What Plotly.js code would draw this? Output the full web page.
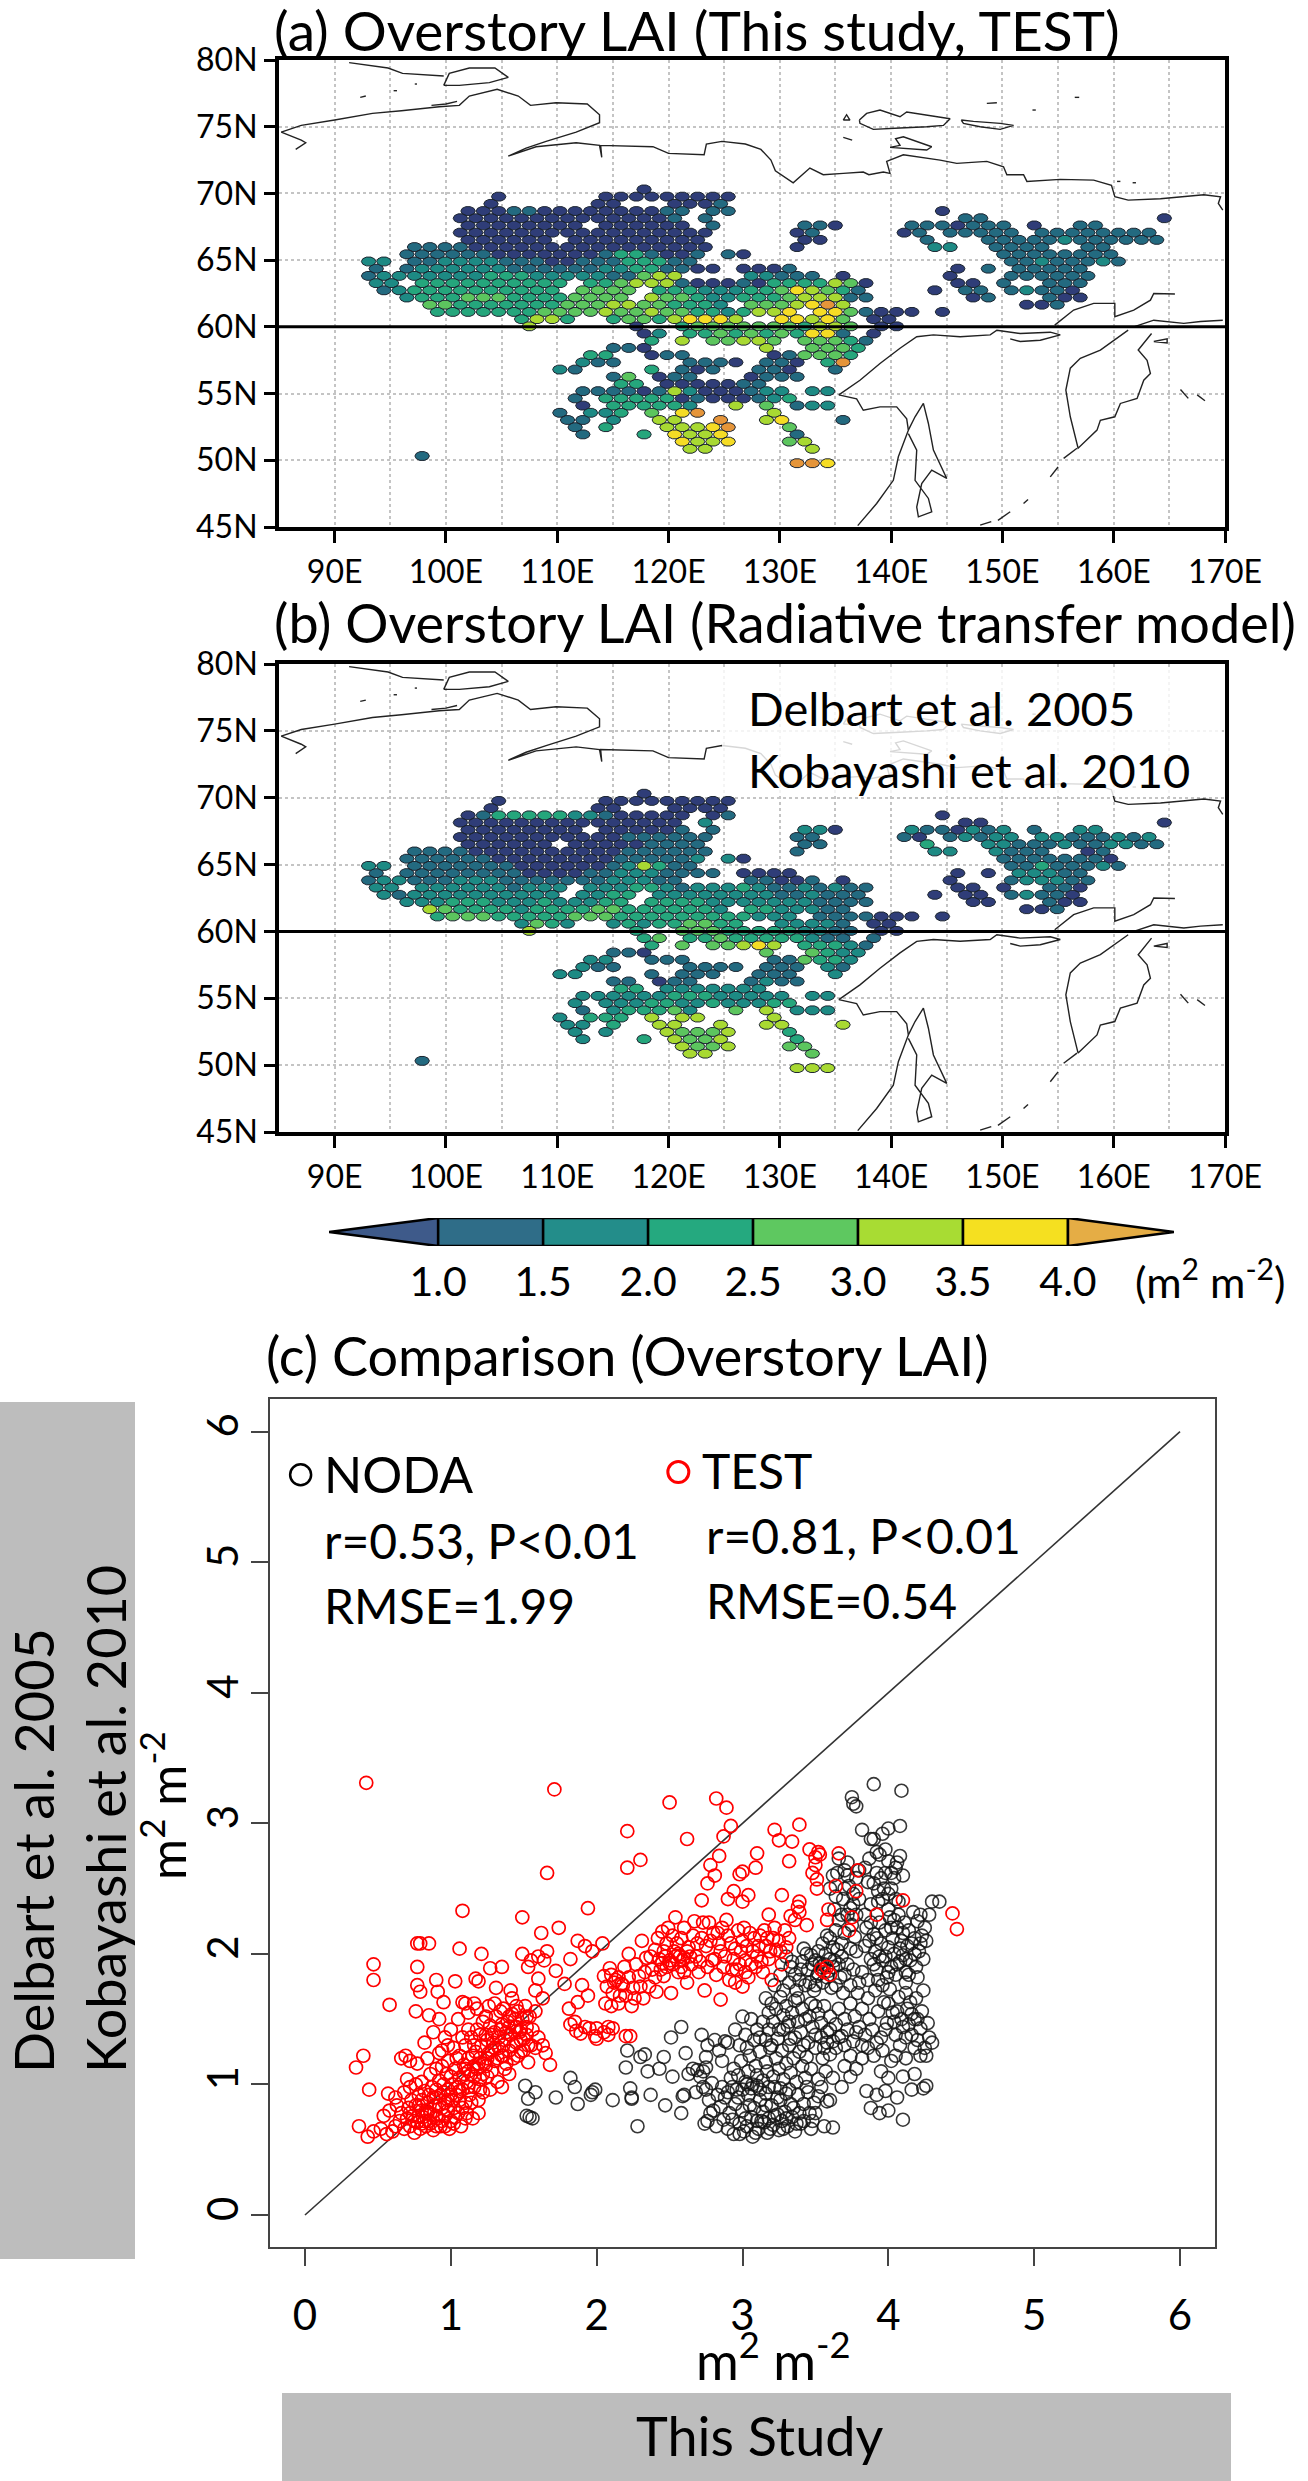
<!DOCTYPE html>
<html><head><meta charset="utf-8">
<script src="https://cdn.plot.ly/plotly-3.0.1.min.js"></script>
<style>html,body{margin:0;padding:0;background:#fff}</style></head>
<body><div id="chart" style="width:1308px;height:2481px"></div>
<script>
// ---------- DATA ----------
const lonTicks=[90,100,110,120,130,140,150,160,170];
const lonLabels=['90E','100E','110E','120E','130E','140E','150E','160E','170E'];
const lonMinor=[95,105,115,125,135,145,155,165];
const latTicks=[45,50,55,60,65,70,75,80];
const latLabels=['45N','50N','55N','60N','65N','70N','75N','80N'];
const laiClasses=['#2f3d78','#236a80','#1d8a84','#25a67c','#5cc55e','#a8d932','#f5dc25','#e5953a'];
const barBounds=[1,1.5,2,2.5,3,3.5,4];
const barColors=['#2f6d88','#238d8a','#25a97f','#5ec860','#a8dc33','#f5e020'];
const barLowColor='#3e5a8a', barHighColor='#e5ad45', barLowTip=0.48, barHighTip=4.505;
// one row per grid latitude (north to south): [first longitude, classes in TEST, classes in radiative transfer model]
const hexRows=[
[[117.8,'0','0']],
[[104.3,'0','0'],[113.8,'000000000','000000000']],
[[103.5,'0','0'],[113.8,'00','00'],[120,'0001','0000']],
[[102.3,'000110000000011','013333322100000'],[123.7,'11','01'],[144.4,'0','0']],
[[101.7,'000000000000001','000000000000000'],[123.9,'1','2'],[147.2,'11','00'],[164.6,'0','0']],
[[101.7,'00000000','00000000'],[113.8,'000000','000001'],[124.4,'1','1'],[131.7,'110','220'],[141.4,'1110111','2110212'],[152.6,'0','1'],[157,'11','22']],
[[101,'0000000000000000','0000000000011111'],[123.2,'0','1'],[131.7,'01','11'],[141.4,'01','10'],[145.45,'11111','12122'],[153.8,'11111111','22111212']],
[[101.7,'000000','000000'],[111.5,'000000000','000001111'],[131.7,'0','1'],[133.3,'0','1'],[142.75,'1','3'],[148.1,'111112111111','221112112211']],
[[97.1,'1111','1111'],[102.1,'0000000000000000','0000000000111111'],[132.2,'0','1'],[144,'22','22'],[149.3,'1111','2111'],[157.4,'11','01']],
[[96.8,'11111100000001331001','11111100000000111112'],[124.8,'1','2'],[127.1,'0','0'],[150.7,'11111111','11111110']],
[[93.2,'22','22'],[96.8,'1122221110011133311','1111111000000125311'],[150.4,'11211121','11311121']],
[[93.2,'1','1'],[96.6,'12222221111112233110','11111111000011222111'],[124.4,'0','1'],[126.4,'00','00'],[129.2,'01','00'],[145.45,'0','0'],[149.2,'1','0'],[151.6,'11111','22211']],
[[93,'122','122'],[97.5,'222223332222211','111222111111122'],[117.2,'455','211'],[127.6,'22111','11001'],[135.8,'0','0'],[145.45,'0','0'],[150.4,'1','1'],[151.6,'11111','22211']],
[[94.1,'22','22'],[98.4,'3333333333','2222221222'],[112.7,'334555','222332'],[121.1,'100010','122232'],[129,'3333540','1121211'],[145.6,'00','00'],[150.4,'1','0'],[154,'111','110']],
[[93.9,'1','2'],[96.1,'23333333333','12222222222'],[112.4,'4444','2233'],[118.6,'333222','222222'],[127.3,'33465','22112'],[134.2,'431','111'],[144.55,'0','0'],[147,'11','00'],[150.4,'1211','1211'],[156.4,'0','0']],
[[96.1,'233344433334444','222333222322233'],[118.6,'544322','333322'],[127.3,'3334555','2222211'],[136,'11','11'],[147,'01','00'],[154,'100','100']],
[[98.2,'4433333','5433332'],[108.5,'3344455443332','3333443333332'],[127.3,'4445675','3322211'],[151.7,'001','001']],
[[99.4,'3333333','3444333'],[109,'4444544544332','3344433333333'],[126.9,'3556','3222'],[133.3,'66','11'],[135.8,'41000','11000'],[144,'0','0']],
[[106.2,'3','2'],[107.6,'55','43'],[111.3,'3','2'],[114.5,'3443','2323'],[120.9,'56665','34433'],[130.6,'665','222'],[134.2,'64','21'],[138.8,'00','00']],
[[107.8,'5','5'],[117.5,'0','3'],[121.6,'34444','44433'],[128.7,'4443554','3332211'],[138.8,'00','00']],
[[117.2,'02','34'],[122.3,'33434343661','33433333211'],[138,'0','1']],
[[117.9,'3','3'],[120.9,'5','4'],[123.9,'44554','44565'],[132.4,'44431','33321']],
[[115.4,'110','110'],[129,'5','4'],[132.8,'4443','4322']],
[[113.1,'33','22'],[118.2,'011','111'],[130,'01','11'],[132.4,'4443','4332']],
[[112,'211','211'],[122.3,'1110','1111'],[128.7,'110','111'],[134.7,'37','21']],
[[110.1,'2','2'],[112,'1','2'],[119,'3','1'],[120.9,'101','111'],[128.7,'110','111'],[134.7,'1','2']],
[[115,'14','11'],[118.6,'01','01'],[122.3,'1','1'],[127.3,'01','12'],[130.6,'11','11']],
[[115.6,'33','33'],[120,'00','22'],[123.2,'00011','22222']],
[[112.7,'11110152000122','22222233322222'],[133.5,'22','22']],
[[111.7,'1','2'],[114.5,'33333','22233'],[121.1,'01000123','22322233']],
[[111.7,'0','1'],[114.5,'333332','233342'],[126.4,'5','4'],[129.2,'4','5'],[131,'122','222']],
[[110.8,'1','2'],[113.6,'223','333'],[119,'4','5'],[120.9,'67','55'],[129,'5','5']],
[[110.8,'11','22'],[115,'2','3'],[119,'55','55'],[125.3,'7','5'],[129,'56','55'],[136.1,'1','5']],
[[112.2,'1','2'],[114.5,'3','2'],[119.5,'5','5'],[121.4,'5567','4445'],[131,'4','3']],
[[112.2,'1','2'],[118.2,'3','3'],[120.7,'6556','5445'],[132.2,'1','3']],
[[120.9,'6556','5445'],[131.2,'4','4'],[132.8,'5','4']],
[[121.8,'55','55'],[132.8,'5','4']],
[[98.2,'1','1']],
[[131,'776','555']]
];
// coast polylines as [lon,lat]
const coasts=[
[[85.2,74.6],[87,75.1],[90,75.5],[93.4,76],[96,76.2],[99.4,76.5],[101.2,76.6],[102.1,77.3],[104.6,77.8],[106.5,77.3],[107.6,76.6],[109.9,76.8],[112.7,76.7],[113.8,75.9],[113.8,75.3],[111.7,74.6],[109,73.9],[107.2,73.4],[105.6,72.8],[108.1,73.5],[111.7,73.8],[113.8,73.6],[114,72.7],[113.9,73.6],[118.6,73.5],[120,73],[123.2,72.9],[123.4,73.7],[124.8,73.9],[126.9,73.7],[128.3,73.3],[129.2,72.5],[129.6,71.7],[131.2,70.8],[132.7,71.9],[133.9,71.4],[135.7,71.5],[137.5,71.6],[138,71.4],[139.3,71.6],[139.9,71.5],[139.6,72.4],[141.1,72.9],[144.4,72.5],[145.9,72.25],[148.6,72.4],[150.1,72],[150.4,71.4],[151.9,71.4],[152.2,70.9],[155.2,71.05],[158.2,71],[159.8,70.6],[160.1,69.75],[161.3,69.5],[164.2,69.6],[168.1,69.9],[169.6,69.75],[169.4,69.25],[169.8,68.75]],
[[85.2,74.6],[87,74],[87.4,73.8],[86.5,73.3]],
[[91.3,79.8],[94.8,79.4],[96.1,79],[99.8,78.8]],
[[99.8,78.1],[100.3,79],[102.1,79.4],[104.4,79.4],[105.6,78.7],[103.9,78.3],[101.2,78.1],[99.8,78.1]],
[[92.3,77.2],[92.8,77.3]],[[95.3,77.7],[95.6,77.7]],[[97.2,78.2],[97.4,78.2]],[[98.7,76.6],[100,76.7],[101,76.9]],
[[135.7,75.5],[136,75.9],[136.3,75.5],[135.7,75.5]],
[[137.15,75.5],[137.8,76],[139,76.25],[140.8,75.75],[141.4,76.1],[142.9,75.9],[145.3,75.6],[144.7,75.1],[143.2,75],[140.8,74.9],[138.4,74.8],[137.2,75.25],[137.15,75.5]],
[[146.3,75.5],[147.4,75.4],[149.8,75.25],[151,75.1],[149.8,74.8],[148,75],[146.5,75.25],[146.3,75.5]],
[[139.9,73.45],[140.8,73.6],[140.4,74.1],[141.1,74.25],[143.65,73.5],[143.2,73.25],[139.9,73.45]],
[[148.6,76.75],[149.5,76.8]],[[152.7,76.25],[153,76.25]],[[156.5,77.2],[156.9,77.2]],[[135.7,74.2],[136.5,74]],[[160.3,70.9],[160.6,70.9]],[[161.7,70.8],[162,70.8]],
[[135.3,54.9],[137.2,56],[139,57.25],[140.8,58.4],[142.3,59.26],[143.8,59.4],[146.2,59.26],[148.9,59.4],[149.5,59.75],[151.6,59.5],[154.3,59.6],[155.2,59.4],[153.4,59],[151.6,58.9],[150.7,59.1]],
[[135.3,54.9],[136.9,54.6],[137.5,53.75],[139,54],[140.5,54],[141.4,53.1],[141.55,52.26],[140.65,50.26],[140.2,48.5],[138.7,46.76],[137,45.1]],
[[141.55,52.26],[142.15,53.26],[142.9,54.26],[143.35,52.76],[143.8,50.76],[145,48.64],[143.65,49.26],[142.75,48.26],[142.3,46.5],[142.45,45.76],[143.65,46.14],[143.35,47.14],[142.15,48.5],[142.3,50.76],[141.55,52]],
[[154.7,60.13],[156.4,61.26],[158.2,61.76],[160.1,61.76],[160.1,60.76],[161.8,61.26],[163.3,62],[163.6,62.5],[165.5,62.46]],
[[161.8,60],[163.6,60.5],[166.3,60.26],[167.8,60.4],[169.8,60.5]],
[[161.3,59.75],[158.8,58.26],[157,57.64],[156.1,56.9],[155.7,55.26],[156.1,53.26],[156.8,50.9],[158.5,52.26],[158.8,53],[160.1,53.26],[160.6,54.26],[162.1,54.64],[162.7,56],[163.3,56.5],[163,57.5],[162.2,58.26],[163.4,59.5]],
[[155.5,50.14],[156.7,50.9]],[[154.3,48.76],[155,49.5]],[[151.9,46.76],[152.3,47.06]],[[149.6,45.5],[150.7,46.14]],[[148,45.14],[149,45.4]],[[166,55.3],[166.7,54.64]],[[167.5,54.9],[168.2,54.46]],
[[163.6,58.9],[164.8,59.1],[164.8,58.8],[163.6,58.9]]
];
const parallel60Lon=[85,170], parallel60Lat=[60,60];
const oneToOne=[0,6];
const scatterTicks=[0,1,2,3,4,5,6];
const nodaLegend=[-0.03,5.67], testLegend=[2.56,5.69];
const nodaPts=[
[1.51,.99],[1.58,.94],[1.53,.89],[1.72,.90],[1.52,.76],[1.56,.74],[1.54,.75],[1.82,1.05],[1.85,.98],[1.99,.96],[1.96,.92],[1.97,.94],[1.87,.85],[2.11,.88],[2.23,.97],[2.24,.89],[2.24,.90],[2.37,.92],[2.28,.68],[2.47,.84],[2.58,.78],[2.59,.91],[2.6,.92],
[2.21,1.26],[2.2,1.13],[2.3,1.21],[2.33,1.23],[2.35,1.10],[2.43,1.12],[2.46,1.21],[2.52,1.06],[2.61,1.24],[2.51,1.36],[2.58,1.44],[2.63,1.08],[2.66,1.12],[2.69,1.11],[2.73,1.10],[2.75,1.13],[2.68,.94],[2.75,.96],[2.81,1.34],[2.88,1.33],[2.75,1.21],[2.78,.78],[2.80,.80],[2.87,.73],[2.79,1.01],
[2.71,1.06],[2.73,.98],[2.77,.88],[2.74,.70],[2.76,.72],[2.82,.68],[2.85,.83],[2.86,.98],[2.83,.92],[2.88,.90],[2.90,.66],[2.93,.73],[2.91,.78],[2.94,.62],[2.95,.85],[2.96,.96],[2.98,.70],[3.0,.80],[3.01,.64],[3.03,.68],[3.04,.92],[3.06,.75],[3.07,.60],[3.08,.82],[3.1,.72],[3.11,.66],[3.12,.88],[3.14,.79],[3.15,.71],[3.16,.93],[3.17,.63],[3.18,.74],[3.2,.84],[3.21,.69],[3.22,.98],[3.24,.77],[3.25,.65],[3.26,.88],[3.27,.72],[3.29,.79],[3.3,.93],[3.31,.68],[3.33,.85],[3.34,.75],[3.36,.64],[3.38,.92],[3.4,.7],[3.42,.85],[3.45,.94],[3.47,.66],[3.5,.78],[3.48,.72],[3.52,.91],[3.56,.68],[3.58,.87],[3.62,.67],[3.6,.88],
[2.92,1.05],[2.94,1.12],[2.97,1.07],[2.99,1.18],[3.02,1.02],[3.04,1.10],[3.05,1.22],[3.07,1.0],[3.09,1.14],[3.1,1.07],[3.12,1.25],[3.14,1.03],[3.16,1.17],[3.17,1.1],[3.19,1.28],[3.21,1.06],[3.23,1.2],[3.25,1.12],[3.27,1.26],[3.28,1.04],[3.3,1.16],[3.32,1.3],[3.33,1.09],[3.35,1.2],[3.37,1.02],[3.39,1.25],[3.41,1.14],[3.43,1.05],[3.44,1.21],[3.47,1.12],[3.5,1.28],[3.52,1.04],[3.55,1.2],[3.57,1.1],[3.6,1.23],[3.58,1.32],[3.62,1.05],
[3.16,1.66],[3.18,1.55],[3.2,1.62],[3.21,1.48],[3.23,1.58],[3.25,1.42],[3.26,1.67],[3.28,1.53],[3.3,1.6],[3.31,1.45],[3.33,1.35],[3.34,1.55],[3.36,1.64],[3.38,1.48],[3.4,1.4],[3.41,1.58],[3.43,1.5],[3.45,1.32],[3.47,1.62],[3.48,1.44],[3.5,1.38],[3.52,1.54],[3.54,1.47],[3.56,1.6],[3.58,1.4],[3.6,1.52],[3.62,1.33],[3.64,1.46],[3.66,1.58],[3.68,1.37],[3.7,1.5],[3.72,1.42],[3.74,1.62],[3.76,1.33],[3.77,1.52],[3.79,1.7],[3.8,1.44],[3.82,1.58],[3.84,1.38],[3.86,1.66],[3.87,1.5],[3.89,1.42],[3.91,1.72],[3.93,1.56],[3.95,1.36],[3.97,1.63],[3.99,1.47],[4.01,1.73],[4.03,1.55],[4.05,1.38],[4.07,1.67],[4.09,1.5],
[4.12,1.7],[4.13,1.58],[4.14,1.46],[4.15,1.63],[4.16,1.38],[4.18,1.5],[4.19,1.66],[4.2,1.34],[4.22,1.43],[4.23,1.56],[4.25,1.28],[4.27,1.47],[4.28,1.36],[4.26,1.22],[4.3,1.32],[4.05,1.22],[4.02,1.18],[4.12,1.2],[3.95,1.1],[4.0,1.05],[4.1,1.06],[4.18,1.08],[3.85,.95],[3.92,.92],[3.98,.95],[3.88,.82],[3.94,.78],[4.0,.8],[4.06,.9],[4.1,.73],[4.16,.96],[4.24,.97],[4.26,.99],
[3.3,1.98],[3.33,1.9],[3.36,1.84],[3.39,1.8],[3.41,1.94],[3.43,1.76],[3.45,1.88],[3.47,1.99],[3.49,1.72],[3.51,1.83],[3.53,1.93],[3.55,1.78],[3.57,2.0],[3.59,1.87],[3.61,1.74],[3.63,1.95],[3.65,2.03],[3.67,1.82],[3.69,1.7],[3.5,1.95],[3.52,1.85],[3.54,1.9],[3.56,1.92],[3.58,1.82],[3.44,2.0],
[3.6,2.12],[3.62,2.05],[3.64,2.18],[3.66,2.26],[3.63,2.34],[3.68,2.08],[3.69,2.42],[3.7,2.16],[3.72,2.3],[3.73,2.52],[3.74,2.04],[3.75,2.22],[3.76,2.38],[3.6,2.5],[3.62,2.6],[3.65,2.62],[3.77,2.13],
[3.85,2.2],[3.87,2.1],[3.88,1.96],[3.9,2.15],[3.91,2.02],[3.92,1.88],[3.94,2.24],[3.95,2.08],[3.96,1.95],[3.98,2.18],[3.99,1.82],[4.0,2.05],[4.01,2.28],[4.02,1.9],[4.03,2.12],[4.04,2.0],[4.05,1.84],[4.06,2.2],[4.07,2.3],[4.08,1.94],[4.09,2.1],[4.1,1.99],[4.11,2.24],[4.12,1.86],[4.13,2.06],[4.14,2.18],[4.15,1.95],[4.17,2.32],[4.18,2.12],[4.19,1.9],[4.2,2.25],[4.21,2.02],[4.23,2.14],[4.22,2.3],[4.24,1.96],[4.26,2.1],[4.28,2.3],[4.24,1.72],[4.3,2.4],[4.12,1.78],[3.93,1.8],
[3.75,3.2],[3.78,3.13],[3.76,3.15],[3.9,3.3],[4.09,3.25],[3.82,2.95],[3.9,2.88],[3.96,2.92],[4.08,2.98],[4.0,2.96],[3.92,2.78],[3.94,2.76],[3.87,2.73],[4.06,2.7],[4.08,2.75],[4.0,2.71],[3.95,2.58],[3.84,2.66],[4.05,2.66],[4.1,2.6],[3.97,2.5],[3.93,2.48],[4.02,2.5],[3.86,2.55],[3.98,2.62],[4.05,2.42],[4.07,2.4],[3.93,2.4],[4.0,2.34],[4.35,2.4],[3.7,2.64],[3.72,2.7],[3.66,2.73],[3.8,2.64],[3.78,2.58],
// second reading of the dense parts
[2.72,1.38],[2.76,1.3],[2.84,1.26],[2.86,1.18],[2.9,1.32],[2.95,1.42],[2.98,1.3],[3.02,1.38],[3.03,1.28],[3.08,1.34],[3.1,1.42],[3.12,1.36],[3.14,1.48],[3.06,1.5],[3.0,1.52],[3.16,1.34],[3.18,1.42],[3.2,1.3],[3.24,1.35],[3.28,1.42],[3.32,1.48],[3.36,1.36],[3.38,1.66],[3.42,1.3],[3.46,1.52],[3.5,1.6],[3.54,1.36],[3.56,1.28],[3.6,1.42],[3.64,1.28],[3.66,1.36],[3.7,1.3],[3.74,1.22],[3.78,1.4],[3.82,1.3],[3.7,1.14],[3.74,1.06],[3.68,.98],[3.78,1.12],[3.82,1.2],[3.86,1.28],[3.9,1.22],[3.92,1.32],[3.96,1.26],[3.98,1.42],[4.0,1.62],[4.04,1.48],[4.06,1.56],[4.08,1.3],[4.1,1.44],[4.12,1.36],[4.16,1.54],[4.18,1.28],[4.2,1.5],[4.22,1.22],
[3.22,1.76],[3.26,1.84],[3.28,1.72],[3.32,1.78],[3.34,1.94],[3.37,1.72],[3.4,1.88],[3.42,2.04],[3.46,1.78],[3.48,1.92],[3.5,1.76],[3.52,2.02],[3.55,2.08],[3.58,2.14],[3.6,1.96],[3.62,1.9],[3.64,1.76],[3.66,1.92],[3.68,1.98],[3.7,1.84],[3.72,1.92],[3.74,1.76],[3.76,1.88],[3.78,2.02],[3.8,1.78],[3.82,1.86],[3.84,2.06],[3.86,1.8],[3.88,2.24],[3.9,1.92],[3.92,2.12],[3.94,1.98],[3.96,1.76],[3.98,1.98],[4.0,1.86],[4.02,2.2],[4.04,2.26],[4.06,1.92],[4.08,2.04],[4.1,2.16],[4.12,1.96],[4.14,1.84],[4.16,2.08],[4.18,2.0],[4.2,1.82],[4.22,2.08],[4.25,2.2],[3.76,2.46],[3.64,2.44],[3.68,2.3],[3.7,2.5],[3.72,2.6],[3.74,2.35],[3.78,2.3],[3.8,2.42],[3.84,2.3],[3.88,2.38],[3.9,2.54],[3.92,2.62],[3.96,2.42],[4.0,2.46],[4.02,2.62],[4.04,2.58],[3.98,2.8],[3.88,2.88],
[2.98,.62],[3.02,.74],[3.05,.84],[3.09,.63],[3.13,.72],[3.16,.84],[3.19,.66],[3.22,.76],[3.24,.9],[3.28,.66],[3.3,.74],[3.32,.96],[3.35,.82],[3.37,.7],[3.39,.78],[3.42,.72],[3.44,.98],[3.46,.78],[3.49,.86],[3.54,.98],[2.9,.94],[2.93,.98],[2.97,.9],[3.0,.96],[3.03,1.0],[3.06,.97],[3.1,.99],[3.12,.96],[3.18,.98],[3.26,.97]
];
const testPts=[
[.42,3.31],[1.71,3.26],[2.50,3.16],[2.82,3.19],[2.89,3.12],[2.92,2.98],[2.21,2.94],[2.62,2.88],[2.87,2.90],[3.22,2.95],[3.39,2.99],[3.25,2.87],[3.34,2.86],[3.46,2.80],[3.53,2.76],[3.66,2.77],[2.84,2.75],[3.10,2.77],[2.30,2.72],[2.21,2.66],[2.78,2.68],[3.09,2.66],[3.32,2.71],[1.66,2.62],[2.81,2.60],[3.0,2.63],[2.98,2.61],[3.5,2.68],[3.79,2.64],[3.51,2.57],[2.76,2.54],[3.51,2.50],[3.64,2.52],[2.94,2.48],[3.04,2.45],[2.90,2.42],[2.72,2.41],[3.0,2.40],[3.27,2.45],[3.39,2.40],[3.78,2.48],[4.1,2.41],[3.48,2.62],[3.5,2.74],[3.52,2.78],
[1.08,2.33],[1.94,2.35],[1.49,2.28],[3.18,2.30],[3.33,2.29],[3.59,2.34],[3.92,2.30],[4.44,2.31],[4.47,2.19],[3.38,2.36],[3.39,2.32],[3.36,2.26],[3.44,2.22],[3.58,2.26],[3.75,2.28],[3.73,2.18],
[.47,1.92],[.47,1.80],[.77,2.08],[.85,2.08],[.79,2.08],[1.06,2.04],[1.21,2.0],[.77,1.90],[.58,1.61],[.90,1.80],[1.03,1.79],[.77,1.76],[.79,1.71],[.91,1.71],[1.17,1.81],[1.19,1.79],[1.27,1.89],[1.35,1.90],[1.31,1.74],[1.41,1.72],[.76,1.56],[.85,1.53],[.95,1.63],[1.08,1.63],[1.16,1.62],[1.49,2.0],[1.62,2.16],[1.74,2.2],[1.87,2.1],[1.53,1.90],[1.64,1.95],[1.72,1.87],[1.6,1.81],[1.78,1.77],[1.9,1.76],[1.87,1.63],[1.81,1.58],[1.94,1.68],[1.85,1.48],[1.95,1.43],[1.89,1.39],[2,1.43],[2.11,1.43],[2,1.35],[2.05,1.4],[2.08,1.38],[2.23,1.37],[1.55,1.95],[1.6,1.98],[1.66,2.02],[1.92,2.06],[1.97,2.02],[2.04,2.08],[1.58,1.72],[1.63,1.66],[1.82,1.96],[1.45,1.6],[1.42,1.66],
[2.05,1.83],[2.07,1.75],[2.09,1.89],[2.11,1.7],[2.13,1.8],[2.15,1.62],[2.17,1.77],[2.19,1.9],[2.2,1.68],[2.22,2.0],[2.24,1.6],[2.25,1.74],[2.27,1.92],[2.29,1.83],[2.31,2.1],[2.32,1.66],[2.34,1.97],[2.36,1.75],[2.38,1.88],[2.4,2.03],[2.41,1.71],[2.43,1.96],[2.45,2.17],[2.46,1.83],[2.48,2.08],[2.5,1.93],[2.51,1.7],[2.53,2.02],[2.54,2.28],[2.56,1.86],[2.58,2.12],[2.59,1.95],[2.6,2.2],[2.62,1.78],[2.63,2.05],[2.65,1.92],[2.67,2.25],[2.68,1.98],[2.7,1.86],[2.72,2.12],[2.74,1.72],[2.75,2.06],[2.77,2.24],[2.79,1.95],[2.8,2.16],[2.82,1.84],[2.84,2.08],[2.86,2.2],[2.88,1.98],[2.9,2.14],[2.91,1.8],[2.93,1.88],[2.95,2.04],[2.97,2.18],[2.98,1.92],[3.0,2.1],[3.02,1.95],[3.04,1.82],[3.05,2.16],[3.07,2.02],[3.09,1.9],[3.1,1.98],[3.12,2.14],[3.14,1.86],[3.16,2.06],[3.18,1.96],[3.2,1.8],[3.22,2.2],[3.23,2.03],[3.25,2.1],[3.27,1.92],[3.29,2.18],[3.3,2.05],[3.32,2.12],[3.02,1.86],[3.0,1.75],[2.95,1.78],[2.85,1.65],
[2.5,1.95],[2.52,1.92],[2.54,1.98],[2.56,2.0],[2.48,1.9],[2.46,2.02],[2.45,1.93],[2.58,1.9],[2.6,1.97],[2.62,2.02],[2.12,1.78],[2.15,1.82],[2.18,1.76],[2.1,1.84],[3.58,1.9],[3.56,1.86],[3.6,1.84],[3.54,1.88],
[.37,.68],[.43,.60],[.47,.64],[.52,.66],[.56,.62],[.60,.64],[.35,1.13],[.40,1.22],[.44,.96],[.57,.93],[.62,.9],[.69,1.22],[.66,1.2],[.72,1.18],[.77,1.16],[.54,.76],[.58,.8],[.99,.66],[1.19,.78],[1.11,.78],[1.35,.98],[1.27,.96],[1.53,1.17],[1.68,1.15],[1.65,1.24],[1.63,1.30],[2.2,1.37],[2.08,1.44],[1.99,1.37],[1.82,1.46],[1.86,1.41],[1.92,1.44],[1.37,1.12],[1.4,1.08],
[.62,.68],[.65,.72],[.66,.78],[.68,.66],[.7,.74],[.71,.82],[.72,.68],[.73,.88],[.74,.76],[.75,.63],[.76,.84],[.77,.71],[.78,.92],[.79,.66],[.8,.8],[.81,.75],[.82,.95],[.83,.68],[.84,.86],[.85,.72],[.86,.78],[.87,.98],[.88,.65],[.89,.84],[.9,.9],[.91,.74],[.92,1.03],[.93,.68],[.94,.82],[.95,.94],[.96,.76],[.97,1.08],[.98,.88],[1.0,.72],[1.01,1.0],[1.02,.82],[1.03,1.12],[1.04,.92],[1.05,.78],[1.06,1.05],[1.07,.68],[1.08,.96],[1.09,1.15],[1.1,.86],[1.11,1.02],[1.12,1.2],[1.13,.92],[1.14,1.08],[1.15,.74],[1.16,.98],[1.17,1.25],[1.18,1.12],[1.19,.88],[1.2,1.04],[1.21,1.3],[1.22,.94],[1.23,1.16],[1.24,1.38],[1.25,1.06],[1.26,1.24],[1.27,1.45],[1.28,1.1],[1.29,1.32],[1.3,1.18],[1.31,1.52],[1.32,1.02],[1.33,1.28],[1.34,1.42],[1.35,1.22],[1.36,1.58],[1.37,1.34],[1.38,1.16],[1.39,1.48],[1.4,1.26],[1.41,1.38],[1.42,1.54],[1.43,1.2],[1.44,1.44],[1.45,1.32],[1.46,1.56],[1.47,1.4],[1.48,1.25],[1.49,1.5],[1.5,1.35],[1.51,1.6],[1.52,1.44],[1.53,1.3],[1.54,1.52],[1.56,1.42],[1.58,1.56],[1.6,1.36],[1.22,1.48],[1.18,1.42],[1.14,1.36],[1.26,1.6],[1.3,1.62],[1.34,1.56],[1.1,1.3],[1.06,1.22],[1.02,1.28],[.98,1.18],[.94,1.14],[.92,1.24],[.9,1.12],[.86,1.08],[.84,1.2],[.8,1.02],[.76,1.0],[.72,.98],[1.0,1.42],[.96,1.36],[.92,1.5],[1.05,1.5],[1.12,1.55],[1.18,1.58],[.88,1.4],[.82,1.32],[.7,1.04],[.63,.84],[.68,.94],
[.9,.76],[.92,.84],[.94,.72],[.96,.86],[.98,.8],[1.0,.92],[1.02,.7],[.84,.78],[.82,.72],[.8,.88],[.78,.76],[1.06,.88],[1.08,.82],[1.1,.74],[1.12,.98],[1.14,.86],[1.16,1.14],[1.2,.96],[1.24,1.14],[1.28,1.26],[1.32,1.2],[1.36,1.3],[1.4,1.44],[1.44,1.5],[1.48,1.42],[1.52,1.38],[1.25,1.34],[1.3,1.4],[1.35,1.46],[1.2,1.2],[1.15,1.22],[1.1,1.12],[1.05,.98],[1.0,1.06],[.95,1.0],[.9,.96],[.85,.92],
// second reading of the dense parts
[.72,.78],[.75,.72],[.78,.84],[.8,.7],[.83,.8],[.86,.7],[.88,.9],[.9,.68],[.93,.92],[.96,.68],[.98,.96],[1.01,.88],[1.03,.75],[1.06,.95],[1.09,1.08],[1.12,1.1],[1.16,1.06],[1.19,1.16],[1.22,1.08],[1.25,1.2],[1.28,1.38],[1.3,1.28],[1.33,1.36],[1.36,1.22],[1.38,1.4],[1.4,1.52],[1.43,1.3],[1.46,1.22],[1.48,1.34],[1.5,1.26],[1.52,1.52],[1.55,1.3],[1.58,1.28],[1.2,1.38],[1.16,1.3],[1.12,1.42],[1.08,1.36],[1.04,1.2],[.98,1.3],[.94,1.26],[1.1,1.62],[1.24,1.52],[1.45,1.44],
[2.06,1.62],[2.1,1.6],[2.16,1.68],[2.22,1.82],[2.26,1.66],[2.3,1.75],[2.33,1.86],[2.37,1.98],[2.4,1.82],[2.42,2.12],[2.44,1.88],[2.47,1.98],[2.49,2.2],[2.52,2.14],[2.55,2.08],[2.57,1.98],[2.6,1.86],[2.64,1.98],[2.66,2.14],[2.69,2.08],[2.71,1.94],[2.73,2.24],[2.76,1.9],[2.78,2.1],[2.81,1.96],[2.83,2.16],[2.85,2.02],[2.87,1.9],[2.89,2.26],[2.92,2.08],[2.94,1.96],[2.96,1.88],[2.99,2.02],[3.01,2.2],[3.03,2.06],[3.06,1.92],[3.08,2.12],[3.11,2.06],[3.13,1.94],[3.15,2.18],[3.17,2.12],[3.19,2.02],[3.21,2.12],[3.26,2.02]
];
// ---------- LAYOUT HELPERS ----------
const W=1308,H=2481;
const fx=p=>p/W, fy=p=>1-p/H;
const FONT='Lato, "Open Sans", sans-serif';
function ann(text,x,y,size,opt){return Object.assign({text,x:fx(x),y:fy(y),xref:'paper',yref:'paper',showarrow:false,xanchor:'left',yanchor:'middle',font:{family:FONT,size,color:'#000'}},opt||{});}
const GRID='#c4c4c4';
function mapXaxis(anchor,lw){return {domain:[fx(279),fx(1225)],range:[85,170],anchor,tickvals:lonTicks,ticktext:lonLabels,ticks:'outside',ticklen:12,tickwidth:3,tickcolor:'#000',
  showgrid:true,gridcolor:GRID,griddash:'dot',gridwidth:1.5,zeroline:false,showline:true,mirror:true,linecolor:'#000',linewidth:lw,tickfont:{family:FONT,size:32,color:'#000'},tickangle:0,ticklabelstandoff:2,
  minor:{tickvals:lonMinor,showgrid:true,gridcolor:GRID,griddash:'dot',gridwidth:1.5,ticks:''}};}
function mapYaxis(anchor,top,bot,lw){return {domain:[fy(bot),fy(top)],range:[45,80],anchor,tickvals:latTicks,ticktext:latLabels,ticks:'outside',ticklen:11,tickwidth:3,tickcolor:'#000',
  showgrid:true,gridcolor:GRID,griddash:'dot',gridwidth:1.5,zeroline:false,showline:true,mirror:true,linecolor:'#000',linewidth:lw,tickfont:{family:FONT,size:32,color:'#000'}};}
// ---------- TRACES ----------
const traces=[];
const dLat=0.54, dLon=1.375, lat0=70.3, lon0=117.8, cellRx=.65, cellRy=.345, cellSides=10;
function addPanel(xa,ya,valueIndex){
  const xs=laiClasses.map(()=>[]), ys=laiClasses.map(()=>[]);
  hexRows.forEach((row,i)=>{
    const lat=lat0-dLat*i, shift=(i%2)*dLon/2;
    row.forEach(seg=>{
      const col0=Math.round((seg[0]-lon0-shift)/dLon);
      [...seg[valueIndex]].forEach((d,k)=>{
        const lon=lon0+shift+(col0+k)*dLon, c=+d;
        for(let v=0;v<=cellSides;v++){const a=2*Math.PI*v/cellSides;xs[c].push(lon+cellRx*Math.cos(a));ys[c].push(lat+cellRy*Math.sin(a));}
        xs[c].push(null);ys[c].push(null);
      });
    });
  });
  laiClasses.forEach((col,c)=>{
    traces.push({type:'scatter',mode:'lines',x:xs[c],y:ys[c],xaxis:xa,yaxis:ya,fill:'toself',fillcolor:col,line:{color:'#1c2530',width:1},hoverinfo:'skip',showlegend:false});
  });
  const cx=[],cy=[];
  coasts.forEach(l=>{l.forEach(p=>{cx.push(p[0]);cy.push(p[1]);});cx.push(null);cy.push(null);});
  traces.push({type:'scatter',mode:'lines',x:cx,y:cy,xaxis:xa,yaxis:ya,line:{color:'#222',width:1.4},hoverinfo:'skip',showlegend:false});
  traces.push({type:'scatter',mode:'lines',x:parallel60Lon,y:parallel60Lat,xaxis:xa,yaxis:ya,line:{color:'#000',width:3},hoverinfo:'skip',showlegend:false});
}
addPanel('x','y',1);
addPanel('x2','y2',2);
function cbPoly(xs,ys,col){traces.push({type:'scatter',mode:'lines',x:xs,y:ys,xaxis:'x4',yaxis:'y4',fill:'toself',fillcolor:col,line:{color:'#000',width:2.5},hoverinfo:'skip',showlegend:false});}
cbPoly([barLowTip,barBounds[0],barBounds[0],barLowTip],[.5,1,0,.5],barLowColor);
barColors.forEach((c,i)=>cbPoly([barBounds[i],barBounds[i+1],barBounds[i+1],barBounds[i],barBounds[i]],[0,0,1,1,0],c));
cbPoly([barBounds[6],barHighTip,barBounds[6],barBounds[6]],[1,.5,0,1],barHighColor);
traces.push({type:'scatter',mode:'lines',x:oneToOne,y:oneToOne,xaxis:'x3',yaxis:'y3',line:{color:'#333',width:1.6},hoverinfo:'skip',showlegend:false});
traces.push({type:'scatter',mode:'markers',name:'NODA',x:nodaPts.map(p=>p[0]),y:nodaPts.map(p=>p[1]),xaxis:'x3',yaxis:'y3',marker:{symbol:'circle-open',size:13,color:'rgba(20,20,20,.85)',line:{width:1.6}},showlegend:false});
traces.push({type:'scatter',mode:'markers',name:'TEST',x:testPts.map(p=>p[0]),y:testPts.map(p=>p[1]),xaxis:'x3',yaxis:'y3',marker:{symbol:'circle-open',size:13,color:'#f00',line:{width:1.7}},showlegend:false});
traces.push({type:'scatter',mode:'markers',x:[nodaLegend[0]],y:[nodaLegend[1]],xaxis:'x3',yaxis:'y3',marker:{symbol:'circle-open',size:21,color:'#000',line:{width:2.5}},hoverinfo:'skip',showlegend:false});
traces.push({type:'scatter',mode:'markers',x:[testLegend[0]],y:[testLegend[1]],xaxis:'x3',yaxis:'y3',marker:{symbol:'circle-open',size:21,color:'#f00',line:{width:3}},hoverinfo:'skip',showlegend:false});
// ---------- LAYOUT ----------
const layout={
  width:W,height:H,margin:{l:0,r:0,t:0,b:0},paper_bgcolor:'#fff',plot_bgcolor:'#fff',showlegend:false,font:{family:FONT,color:'#000'},
  xaxis:mapXaxis('y',4),yaxis:mapYaxis('x',60,527,4),
  xaxis2:mapXaxis('y2',3.5),yaxis2:mapYaxis('x2',664,1132,3.5),
  xaxis3:{domain:[fx(270),fx(1215)],range:[-.24,6.24],anchor:'y3',tickvals:scatterTicks,ticks:'outside',ticklen:17,tickwidth:1.5,tickcolor:'#444',showgrid:false,zeroline:false,showline:true,mirror:true,linecolor:'#444',linewidth:2,tickfont:{family:FONT,size:42,color:'#000'},ticklabelstandoff:14},
  yaxis3:{domain:[fy(2247),fy(1399)],range:[-.245,6.25],anchor:'x3',tickvals:scatterTicks,ticks:'outside',ticklen:17,tickwidth:1.5,tickcolor:'#444',showgrid:false,zeroline:false,showline:true,mirror:true,linecolor:'#444',linewidth:2,tickfont:{family:FONT,size:42,color:'#000'},tickangle:-90,ticklabelstandoff:-4},
  xaxis4:{domain:[fx(329),fx(1174)],range:[barLowTip,barHighTip],anchor:'y4',tickvals:barBounds,ticktext:barBounds.map(v=>v.toFixed(1)),ticks:'',showgrid:false,zeroline:false,showline:false,tickfont:{family:FONT,size:41,color:'#000'},ticklabelstandoff:8},
  yaxis4:{domain:[fy(1246),fy(1218)],range:[0,1],anchor:'x4',visible:false,fixedrange:true},
  shapes:[
    {type:'rect',xref:'paper',yref:'paper',x0:fx(0),x1:fx(135),y0:fy(2259),y1:fy(1402),fillcolor:'#bdbdbd',line:{width:0},layer:'below'},
    {type:'rect',xref:'paper',yref:'paper',x0:fx(282),x1:fx(1231),y0:fy(2481),y1:fy(2393),fillcolor:'#bdbdbd',line:{width:0},layer:'below'},
    {type:'rect',xref:'paper',yref:'paper',x0:fx(722),x1:fx(1222),y0:fy(796),y1:fy(668),fillcolor:'rgba(255,255,255,.82)',line:{width:0},layer:'above'}
  ],
  annotations:[
    ann('(a) Overstory LAI (This study, TEST)',272,30,55),
    ann('(b) Overstory LAI (Radiative transfer model)',272,622,54),
    ann('Delbart et al. 2005',746,708,47),
    ann('Kobayashi et al. 2010',746,770,47),
    ann('(m<sup>2</sup> m<sup>-2</sup>)',1133,1278,43),
    ann('(c) Comparison (Overstory LAI)',264,1355,54),
    ann('NODA',322,1474,50),
    ann('TEST',700,1470,48),
    ann('r=0.53, P<0.01',322,1540,48),
    ann('RMSE=1.99',322,1605,48),
    ann('r=0.81, P<0.01',704,1535,48),
    ann('RMSE=0.54',704,1600,48),
    ann('m<sup>2</sup> m<sup>-2</sup>',773,2356,52,{xanchor:'center'}),
    ann('This Study',760,2435,54,{xanchor:'center'}),
    ann('m<sup>2</sup> m<sup>-2</sup>',163,1806,50,{xanchor:'center',textangle:-90}),
    ann('Delbart et al. 2005',33,1851,54,{xanchor:'center',textangle:-90}),
    ann('Kobayashi et al. 2010',105,1819,54,{xanchor:'center',textangle:-90})
  ]
};
Plotly.newPlot('chart',traces,layout,{displayModeBar:false,responsive:false});
</script></body></html>
